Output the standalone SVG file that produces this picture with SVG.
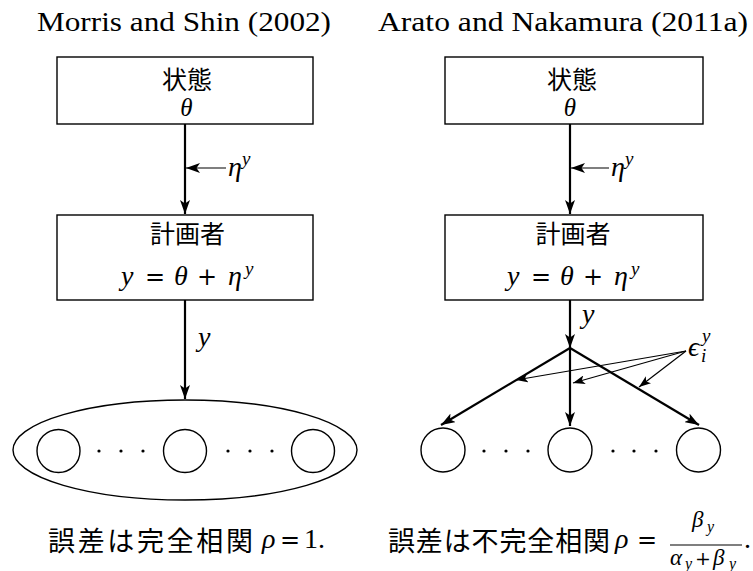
<svg xmlns="http://www.w3.org/2000/svg" width="753" height="571" viewBox="0 0 753 571">
<style>
.bg{fill:#fff}
.box{fill:#fff;stroke:#000;stroke-width:1.4}
.ring{fill:none;stroke:#000;stroke-width:1.4}
.thick{stroke:#000;stroke-width:2.2;fill:none}
.thin{stroke:#000;stroke-width:1.2;fill:none}
.dot{fill:#000}
.title{font-family:"Liberation Serif","DejaVu Serif",serif;font-size:27px;fill:#000}
.cjk{font-family:"Noto Sans CJK JP","Noto Sans CJK SC",sans-serif;font-size:25px;fill:#000}
.cap{font-family:"Noto Sans CJK JP","Noto Sans CJK SC",sans-serif;font-size:27px;fill:#000}
.m{font-family:"Liberation Serif","DejaVu Serif",serif;font-style:italic;font-size:28px;fill:#000}
.th{font-family:"Liberation Serif","DejaVu Serif",serif;font-style:italic;font-size:25px;fill:#000}
.r{font-family:"DejaVu Serif","Liberation Serif",serif;font-style:normal;font-size:24px;fill:#000}
.n{font-family:"Liberation Serif","DejaVu Serif",serif;font-style:normal;font-size:28px;fill:#000}
.s{font-family:"Liberation Serif","DejaVu Serif",serif;font-style:italic;font-size:19px;fill:#000}
.f{font-family:"Liberation Serif","DejaVu Serif",serif;font-style:italic;font-size:23px;fill:#000}
.fr{font-family:"DejaVu Serif","Liberation Serif",serif;font-style:normal;font-size:19px;fill:#000}
.fs{font-family:"Liberation Serif","DejaVu Serif",serif;font-style:italic;font-size:16px;fill:#000}
</style>
<defs>
<marker id="ah" viewBox="0 0 14 10" refX="14" refY="5" markerWidth="14" markerHeight="10" markerUnits="userSpaceOnUse" orient="auto">
<path d="M0,0 L14,5 L0,10 L3.5,5 z" fill="#000"/>
</marker>
<marker id="ahs" viewBox="0 0 12 9" refX="12" refY="4.5" markerWidth="12" markerHeight="9" markerUnits="userSpaceOnUse" orient="auto">
<path d="M0,0 L12,4.5 L0,9 L3,4.5 z" fill="#000"/>
</marker>
</defs>
<rect class="bg" x="0" y="0" width="753" height="571"/>

<g id="titles">
<text class="title" x="37" y="31" textLength="294" lengthAdjust="spacingAndGlyphs">Morris and Shin (2002)</text>
<text class="title" x="378" y="31" textLength="370" lengthAdjust="spacingAndGlyphs">Arato and Nakamura (2011a)</text>
</g>

<g id="connectors">
<line class="thick" x1="185" y1="124" x2="185" y2="214" marker-end="url(#ah)"/>
<line class="thin" x1="226" y1="168" x2="186" y2="168" marker-end="url(#ah)"/>
<line class="thick" x1="185" y1="300" x2="185" y2="399" marker-end="url(#ah)"/>
<line class="thick" x1="570" y1="124" x2="570" y2="214" marker-end="url(#ah)"/>
<line class="thin" x1="609" y1="168" x2="571" y2="168" marker-end="url(#ah)"/>
<line class="thick" x1="570" y1="300" x2="570" y2="348" marker-end="url(#ah)"/>
<line class="thick" x1="570" y1="348" x2="441" y2="425" marker-end="url(#ah)"/>
<line class="thick" x1="570" y1="348" x2="570" y2="426" marker-end="url(#ah)"/>
<line class="thick" x1="570" y1="348" x2="699" y2="425" marker-end="url(#ah)"/>
<line class="thin" x1="686" y1="351" x2="516" y2="380" marker-end="url(#ahs)"/>
<line class="thin" x1="686" y1="351" x2="573" y2="383" marker-end="url(#ahs)"/>
<line class="thin" x1="686" y1="351" x2="639" y2="387" marker-end="url(#ahs)"/>
</g>

<g id="label-eta-left">
<text class="m" x="228" y="176">η</text>
<text class="s" x="242" y="165">y</text>
</g>
<g id="label-eta-right">
<text class="m" x="611" y="176">η</text>
<text class="s" x="625" y="165">y</text>
</g>
<g id="label-y-left"><text class="m" x="198" y="346">y</text></g>
<g id="label-y-right"><text class="m" x="582" y="323">y</text></g>
<g id="label-eps">
<text class="m" x="688" y="356">ϵ</text>
<text class="s" x="702" y="342">y</text>
<text class="s" x="701" y="362">i</text>
</g>

<g id="state-left">
<rect class="box" x="57" y="57" width="256" height="67"/>
<text class="cjk" x="187" y="89" text-anchor="middle">状態</text>
<text class="th" x="186.5" y="116" text-anchor="middle">θ</text>
</g>
<g id="state-right">
<rect class="box" x="445" y="57" width="258" height="67"/>
<text class="cjk" x="572" y="89" text-anchor="middle">状態</text>
<text class="th" x="570" y="116" text-anchor="middle">θ</text>
</g>

<g id="planner-left">
<rect class="box" x="57" y="215" width="256" height="85"/>
<text class="cjk" x="187.5" y="243" text-anchor="middle">計画者</text>
<text class="m" x="121" y="285">y</text>
<text class="r" x="145" y="285">=</text>
<text class="m" x="174" y="285">θ</text>
<text class="r" x="197" y="285">+</text>
<text class="m" x="228" y="285">η</text>
<text class="s" x="245" y="275">y</text>
</g>
<g id="planner-right">
<rect class="box" x="445" y="215" width="258" height="85"/>
<text class="cjk" x="573" y="243" text-anchor="middle">計画者</text>
<text class="m" x="507" y="285">y</text>
<text class="r" x="531" y="285">=</text>
<text class="m" x="560" y="285">θ</text>
<text class="r" x="583" y="285">+</text>
<text class="m" x="614" y="285">η</text>
<text class="s" x="631" y="275">y</text>
</g>

<g id="agents-left">
<ellipse class="ring" cx="185" cy="450" rx="172" ry="50"/>
<circle class="ring" cx="58.5" cy="451" r="21.5"/>
<circle class="ring" cx="185" cy="451" r="21.5"/>
<circle class="ring" cx="313" cy="451" r="21.5"/>
<circle class="dot" cx="99" cy="451" r="1.6"/>
<circle class="dot" cx="121" cy="451" r="1.6"/>
<circle class="dot" cx="143" cy="451" r="1.6"/>
<circle class="dot" cx="228" cy="451" r="1.6"/>
<circle class="dot" cx="250" cy="451" r="1.6"/>
<circle class="dot" cx="272" cy="451" r="1.6"/>
</g>
<g id="agents-right">
<circle class="ring" cx="443" cy="450" r="22"/>
<circle class="ring" cx="570" cy="450" r="22"/>
<circle class="ring" cx="698.5" cy="450" r="22"/>
<circle class="dot" cx="484" cy="451" r="1.6"/>
<circle class="dot" cx="506" cy="451" r="1.6"/>
<circle class="dot" cx="528" cy="451" r="1.6"/>
<circle class="dot" cx="613" cy="451" r="1.6"/>
<circle class="dot" cx="634" cy="451" r="1.6"/>
<circle class="dot" cx="656" cy="451" r="1.6"/>
</g>

<g id="caption-left">
<text class="cap" x="48" y="551" textLength="205" lengthAdjust="spacing">誤差は完全相関</text>
<text class="m" x="262" y="548">ρ</text>
<text class="r" x="280" y="548">=</text>
<text class="n" x="304" y="548">1.</text>
</g>
<g id="caption-right">
<text class="cap" x="388" y="551" textLength="222" lengthAdjust="spacing">誤差は不完全相関</text>
<text class="m" x="615" y="548">ρ</text>
<text class="r" x="637" y="548">=</text>
<text class="f" x="692" y="527">β</text>
<text class="fs" x="707" y="532">y</text>
<line x1="670" y1="545" x2="742" y2="545" stroke="#000" stroke-width="1.1"/>
<text class="f" x="670" y="565">α</text>
<text class="fs" x="685" y="569">y</text>
<text class="fr" x="695" y="565">+</text>
<text class="f" x="713" y="565">β</text>
<text class="fs" x="729" y="569">y</text>
<text class="n" x="744" y="548">.</text>
</g>
</svg>
